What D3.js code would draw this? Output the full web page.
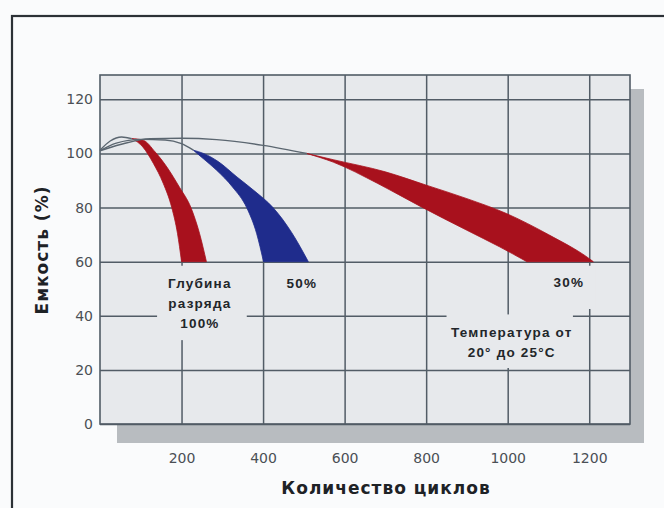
<!DOCTYPE html>
<html>
<head>
<meta charset="utf-8">
<script src="https://cdn.jsdelivr.net/npm/d3@7"></script>
<style>
  html, body { margin: 0; padding: 0; background: #fafbfc; }
  svg { display: block; }
</style>
</head>
<body>
<svg id="chart" width="664" height="508"></svg>
<script>
// ---- data ----
const xTicks = [200, 400, 600, 800, 1000, 1200];
const yTicks = [0, 20, 40, 60, 80, 100, 120];
const xTitle = "Количество циклов";
const yTitle = "Емкость (%)";

// thin capacity lines before fading begins [cycles, capacity %]
const line100 = [[0, 101.2], [25, 104.6], [53, 106.1], [78, 105.5]];
const line50  = [[0, 101.0], [40, 103.8], [100, 105.2], [160, 105.0], [200, 103.6], [229, 101.2]];
const line30  = [[0, 101.0], [50, 103.3], [123, 105.5], [200, 105.6], [286, 105.1], [400, 103.0], [507, 100.0]];

// bands: upper (right) edge and lower (left) edge
const band100Upper = [[78, 105.5], [106, 104.9], [135, 100.6], [164, 95.0], [195, 87.5], [223, 80.0], [244, 70.5], [261, 60]];
const band100Lower = [[78, 105.5], [105, 102.4], [131, 96.3], [155, 89.0], [176, 80.0], [190, 70.5], [200, 60]];
const band50Upper  = [[229, 101.2], [254, 100.0], [290, 97.0], [336, 91.3], [380, 86.0], [425, 79.9], [470, 70.8], [511, 60]];
const band50Lower  = [[229, 101.2], [250, 98.5], [286, 93.8], [325, 87.6], [360, 79.9], [384, 70.5], [401, 60]];
const band30Upper  = [[507, 100.0], [572, 97.7], [700, 93.2], [802, 88.2], [900, 83.3], [997, 77.8], [1100, 70.0], [1203, 60.8], [1210, 60]];
const band30Lower  = [[507, 100.0], [572, 96.8], [680, 89.0], [785, 80.5], [900, 71.6], [980, 65.5], [1047, 60]];

const labels = [
  { x: 245, y: 52.1, lines: ["Глубина", "разряда", "100%"] },
  { x: 495, y: 52.1, lines: ["50%"] },
  { x: 1150, y: 52.5, lines: ["30%"] },
  { x: 1010, y: 34, lines: ["Температура от", "20° до 25°С"] }
];

// ---- layout ----
const svg = d3.select("#chart");
const M = { left: 100, top: 75, right: 630, bottom: 424 };
const x = d3.scaleLinear().domain([0, 1300]).range([M.left, M.right]);
const y = d3.scaleLinear().domain([0, 129]).range([M.bottom, M.top]);
const W = M.right - M.left, H = M.bottom - M.top;

const gridColor = "#525c66";
const plotBg = "#e7e9ec";

// outer frame
svg.append("rect").attr("x", 12).attr("y", 16).attr("width", 700).attr("height", 520)
  .attr("fill", "none").attr("stroke", "#2c3136").attr("stroke-width", 2.2);

// shadow
svg.append("rect").attr("x", M.left + 17).attr("y", M.top + 14)
  .attr("width", W - 3).attr("height", H + 5)
  .attr("fill", "#b8bcc0");
svg.append("rect").attr("x", M.left).attr("y", M.top).attr("width", W).attr("height", H)
  .attr("fill", plotBg);

// grid via axes
const fmt = d3.format("d");
const gx = svg.append("g").attr("transform", `translate(0,${M.bottom})`)
  .call(d3.axisBottom(x).tickValues(xTicks).tickFormat(fmt).tickSizeInner(-H).tickSizeOuter(0).tickPadding(33));
const gy = svg.append("g").attr("transform", `translate(${M.left},0)`)
  .call(d3.axisLeft(y).tickValues(yTicks).tickFormat(fmt).tickSizeInner(-W).tickSizeOuter(0).tickPadding(7));
[gx, gy].forEach(g => {
  g.select(".domain").remove();
  g.selectAll(".tick line").attr("stroke", gridColor).attr("stroke-width", 1.5);
  g.selectAll(".tick text").attr("fill", "#4a4f55")
    .style("font-family", "'DejaVu Sans', sans-serif").style("font-size", "14px");
});
gx.selectAll(".tick text").attr("dy", "0.4em");
// plot border
svg.append("rect").attr("x", M.left).attr("y", M.top).attr("width", W).attr("height", H)
  .attr("fill", "none").attr("stroke", gridColor).attr("stroke-width", 1.6);

// label background boxes (hide gridlines under text)
const boxes = [
  { x0: 140, x1: 360, y0: 58.5, y1: 31 },
  { x0: 1090, x1: 1215, y0: 58.5, y1: 42.5 },
  { x0: 850, x1: 1160, y0: 40.5, y1: 20.7 }
];
svg.append("g").selectAll("rect").data(boxes).join("rect")
  .attr("x", d => x(d.x0)).attr("y", d => y(d.y0))
  .attr("width", d => x(d.x1) - x(d.x0)).attr("height", d => y(d.y1) - y(d.y0))
  .attr("fill", plotBg);

// bands
const edge = d3.line().x(d => x(d[0])).y(d => y(d[1])).curve(d3.curveMonotoneX);
function bandPath(upper, lower) {
  const up = edge(upper);
  const low = edge(lower.slice().reverse());
  return up + "L" + low.slice(1) + "Z";
}
const bands = [
  { u: band100Upper, l: band100Lower, c: "#a8111d" },
  { u: band50Upper, l: band50Lower, c: "#1f2c8c" },
  { u: band30Upper, l: band30Lower, c: "#a8111d" }
];
svg.append("g").selectAll("path").data(bands).join("path")
  .attr("d", d => bandPath(d.u, d.l))
  .attr("fill", d => d.c).attr("stroke", d => d.c).attr("stroke-width", 0.8);

// thin lines
svg.append("g").selectAll("path").data([line100, line50, line30]).join("path")
  .attr("d", d => edge(d)).attr("fill", "none")
  .attr("stroke", "#5b6670").attr("stroke-width", 1.4);

// annotations
const ann = svg.append("g")
  .style("font-family", "'Liberation Sans', Arial, sans-serif")
  .style("font-weight", "bold").style("font-size", "13.5px")
  .attr("fill", "#22262a").attr("text-anchor", "middle");
labels.forEach(l => {
  const t = ann.append("text").attr("x", x(l.x)).attr("y", y(l.y)).style("letter-spacing", "1.2px");
  l.lines.forEach((s, i) => t.append("tspan").attr("x", x(l.x)).attr("dy", i === 0 ? "0.35em" : "1.5em").text(s));
});

// axis titles
svg.append("text").attr("x", 386).attr("y", 494).attr("text-anchor", "middle")
  .style("font-family", "'DejaVu Sans', sans-serif").style("font-weight", "bold")
  .style("font-size", "17px").style("letter-spacing", "1px").attr("fill", "#1e2226")
  .text(xTitle);
svg.append("text").attr("transform", "translate(48,250) rotate(-90)").attr("text-anchor", "middle")
  .style("font-family", "'DejaVu Sans', sans-serif").style("font-weight", "bold")
  .style("font-size", "17px").style("letter-spacing", "1px").attr("fill", "#1e2226")
  .text(yTitle);
</script>
</body>
</html>
